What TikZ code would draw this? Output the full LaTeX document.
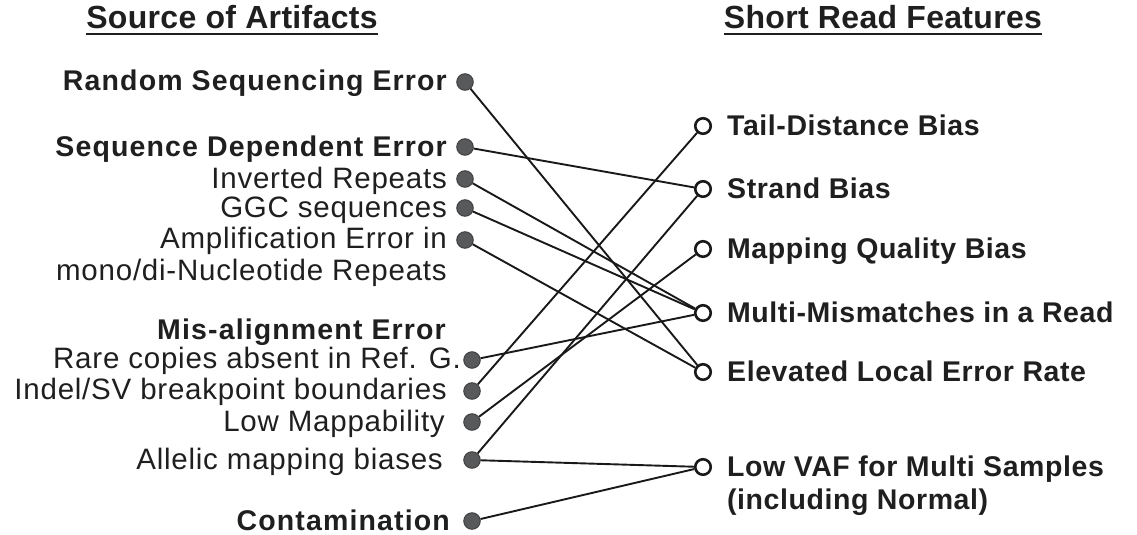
\documentclass[tikz,border=0pt]{standalone}
\usepackage{fontspec}
\setmainfont{Liberation Sans}
\newfontfamily\lblfont{Liberation Sans}[LetterSpace=2]
\newfontfamily\lbllfont{Liberation Sans}[LetterSpace=4]
\newfontfamily\rglfont{Liberation Sans}[LetterSpace=2.6]
\newfontfamily\ttlfont{Liberation Sans}[LetterSpace=1]
\definecolor{dotgray}{HTML}{58595B}
\begin{document}
\begin{tikzpicture}[x=1pt,y=-1pt,
  src/.style={circle, fill=dotgray, draw=black!75, line width=1pt, minimum size=16.5pt, inner sep=0pt},
  feat/.style={circle, fill=white, draw=black!90, line width=2.6pt, minimum size=15.5pt, inner sep=0pt},
  bl/.style={font=\lblfont\bfseries\fontsize{28.5}{32}\selectfont, inner sep=0pt, text=black!88},
  bll/.style={font=\lbllfont\bfseries\fontsize{28.5}{32}\selectfont, inner sep=0pt, text=black!88},
  rl/.style={font=\rglfont\fontsize{29.5}{32}\selectfont, inner sep=0pt, text=black!88},
  ttl/.style={font=\ttlfont\bfseries\fontsize{32}{36}\selectfont, inner sep=0pt, text=black!88},
  link/.style={draw=black!90, line width=1.9pt}]
\useasboundingbox (0,0) rectangle (1137,535);
% titles
\node[ttl, anchor=base] (t1) at (232,29) {Source of Artifacts};
\node[ttl, anchor=base] (t2) at (883,29) {Short Read Features};
\draw[line width=2.6pt, black!88] ([yshift=-5pt]t1.base west) -- ([yshift=-5pt]t1.base east);
\draw[line width=2.6pt, black!88] ([yshift=-5pt]t2.base west) -- ([yshift=-5pt]t2.base east);
% left labels
\node[bll, anchor=base east] (lrand) at (447,90) {Random Sequencing Error};
\node[bll, anchor=base east] (lseq) at (447,156) {Sequence Dependent Error};
\node[rl, anchor=base east] (linv) at (447,188.5) {Inverted Repeats};
\node[rl, anchor=base east] (lggc) at (447,217.5) {GGC sequences};
\node[rl, anchor=base east] (lamp) at (447,248.5) {Amplification Error in};
\node[rl, anchor=base east] (lmono) at (447,280.5) {mono/di-Nucleotide Repeats};
\node[bll, anchor=base east] (lmis) at (446,339) {Mis-alignment Error};
\node[rl, anchor=base east] (lrare) at (461,368.5) {Rare copies absent in Ref. G.};
\node[rl, anchor=base east] (lindel) at (447,399.5) {Indel/SV breakpoint boundaries};
\node[rl, anchor=base east] (llow) at (445,431.5) {Low Mappability};
\node[rl, anchor=base east] (lall) at (443,469.5) {Allelic mapping biases};
\node[bll, anchor=base east] (lcon) at (450,530) {Contamination};
% right labels
\node[bl, anchor=base west] (rtail) at (727,135) {Tail-Distance Bias};
\node[bl, anchor=base west] (rstr) at (727,198) {Strand Bias};
\node[bl, anchor=base west] (rmq) at (727,258) {Mapping Quality Bias};
\node[bl, anchor=base west] (rmm) at (727,322) {Multi-Mismatches in a Read};
\node[bl, anchor=base west] (rel) at (727,381) {Elevated Local Error Rate};
\node[bl, anchor=base west] (rvaf) at (727,476) {Low VAF for Multi Samples};
\node[bl, anchor=base west] (rinc) at (727,509) {(including Normal)};
% left dots
\node[src] (drand) at (465,82) {};
\node[src] (dseq) at (465,147) {};
\node[src] (dinv) at (465,179) {};
\node[src] (dggc) at (465,208) {};
\node[src] (damp) at (465,240) {};
\node[src] (drare) at (472,360) {};
\node[src] (dindel) at (472,391) {};
\node[src] (dlow) at (472,422) {};
\node[src] (dall) at (472,460) {};
\node[src] (dcon) at (472,521) {};
% right circles
\node[feat] (ctail) at (703,126) {};
\node[feat] (cstr) at (703,189) {};
\node[feat] (cmq) at (703,249) {};
\node[feat] (cmm) at (703,313) {};
\node[feat] (cel) at (703,372) {};
\node[feat] (cvaf) at (703,467) {};
% connectors
\path[link] (drand) -- (cel);
\path[link] (dseq) -- (cstr);
\path[link] (dinv) -- (cmm);
\path[link] (dggc) -- (cmm);
\path[link] (damp) -- (cel);
\path[link] (drare) -- (cmm);
\path[link] (dindel) -- (ctail);
\path[link] (dlow) -- (cmq);
\path[link] (dall) -- (cstr);
\path[link] (dall) -- (cvaf);
\path[link] (dcon) -- (cvaf);
\end{tikzpicture}
\end{document}
